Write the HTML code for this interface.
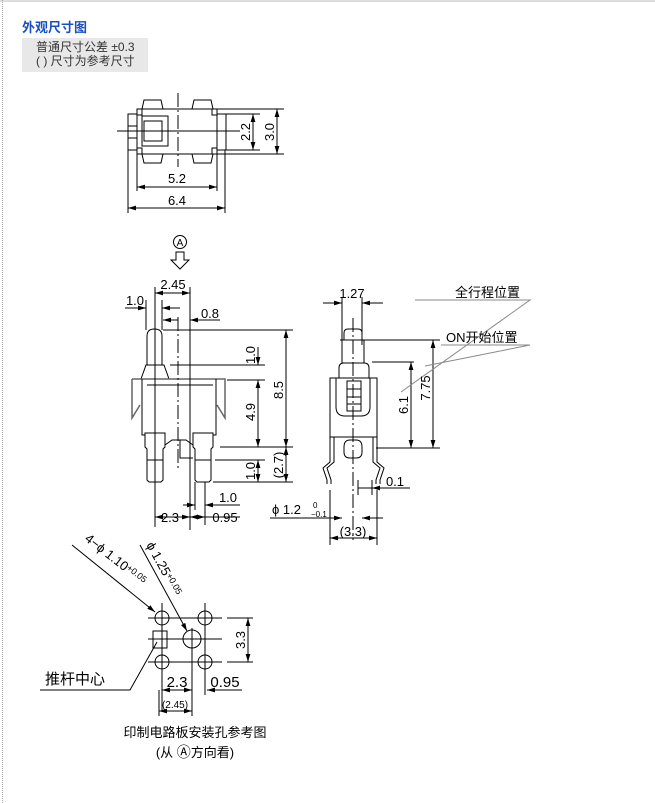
<!DOCTYPE html>
<html><head><meta charset="utf-8"><style>
body{margin:0;background:#fff;width:655px;height:803px;overflow:hidden;position:relative;font-family:"Liberation Sans","Noto Sans CJK SC",sans-serif}
.t{position:absolute;left:22px;top:17px;color:#1a4fc4;font-weight:bold;font-size:13px}
.box{position:absolute;left:22px;top:38px;width:126px;height:34px;background:#e8e8e8;font-size:12px;color:#333;line-height:14px;padding:2px 0 0 14px;box-sizing:border-box}
svg{position:absolute;left:0;top:0}
</style></head><body>
<div style="position:absolute;left:0;top:0;width:655px;height:2px;background:#ddd"></div>
<div style="position:absolute;left:2px;top:0;width:0;height:803px;border-left:1px dotted #aaa"></div>
<div class="t">外观尺寸图</div>
<div class="box">普通尺寸公差 ±0.3<br>( ) 尺寸为参考尺寸</div>
<svg width="655" height="803" viewBox="0 0 655 803" font-family="Liberation Sans, Noto Sans CJK SC, sans-serif">
<defs><marker id="a" viewBox="0 0 10 6" refX="10" refY="3" markerWidth="8" markerHeight="5" orient="auto-start-reverse"><path d="M0,0L10,3L0,6z" fill="#000"/></marker></defs>
<g stroke="#000" stroke-width="1" fill="none">
<!-- top view -->
<rect x="137" y="109" width="80" height="45"/>
<rect x="128" y="114" width="9" height="36"/><line x1="128" y1="126" x2="137" y2="126"/><line x1="128" y1="138" x2="137" y2="138"/>
<rect x="217" y="114" width="9" height="36"/>
<rect x="142" y="116" width="26" height="30"/><rect x="144" y="121" width="18" height="20"/>
<path d="M142,109L144,100H161L163,109M192,109L194,100H211L213,109M142,154L144,163H161L163,154M192,154L194,163H211L213,154"/>
<path d="M137,115h5v-6M217,115h-5v-6M137,148h5v6M217,148h-5v6"/>
<line x1="178" y1="93" x2="178" y2="167" stroke-dasharray="14,3,2,3"/>
<line x1="117" y1="131" x2="240" y2="131"/>
<path d="M226,114H260M226,150H260M217,109H284M217,154H284M137,154V191M217,154V191M128,150V213M225,150V213"/>
<line x1="253" y1="114" x2="253" y2="150" marker-start="url(#a)" marker-end="url(#a)"/>
<line x1="277" y1="109" x2="277" y2="154" marker-start="url(#a)" marker-end="url(#a)"/>
<line x1="137" y1="187" x2="217" y2="187" marker-start="url(#a)" marker-end="url(#a)"/>
<line x1="128" y1="208" x2="225" y2="208" marker-start="url(#a)" marker-end="url(#a)"/>
<circle cx="180" cy="242" r="6.5"/>
<path d="M176,252V260H171L180,269L189,260H184V252Z"/>
<!-- front view -->
<path d="M147,365V336Q147,329 154.5,329Q162,329 162,336V365"/>
<path d="M141,379L146,365H164L169,379"/>
<path d="M132,379H225V385M132,379V418L140,405M225,385V418L217,405" stroke="#666" stroke-width="1.5"/>
<path d="M142,379V435H145M216,379V435H213M147,385H213"/>
<path d="M145,433H165V447L163,449V480L161,482H149L147,480V449L145,447Z M147,460H163"/>
<path d="M193,433H213V447L211,449V480L209,482H197L195,480V449L193,447Z M195,460H211"/>
<path d="M165,445L172,440H186L193,445M180,440V458H193"/>
<line x1="178" y1="317" x2="178" y2="470" stroke-dasharray="14,3,2,3"/>
<path d="M155,287V527M190,287V530M146,300V330M162,300V330M163,330H293M170,365H265M227,380H265M215,460H265M213,482H293M220,447H293M195,482V510M205,482V525"/>
<line x1="155" y1="293" x2="190" y2="293" marker-start="url(#a)" marker-end="url(#a)"/>
<line x1="125" y1="308" x2="146" y2="308" marker-end="url(#a)"/><line x1="180" y1="308" x2="162" y2="308" marker-end="url(#a)"/>
<line x1="163" y1="320" x2="178" y2="320" marker-start="url(#a)"/><line x1="220" y1="320" x2="190" y2="320" marker-end="url(#a)"/>
<line x1="286" y1="330" x2="286" y2="447" marker-start="url(#a)" marker-end="url(#a)"/>
<line x1="286" y1="447" x2="286" y2="482" marker-start="url(#a)" marker-end="url(#a)"/>
<line x1="258" y1="347" x2="258" y2="365" marker-end="url(#a)"/>
<line x1="258" y1="380" x2="258" y2="447" marker-start="url(#a)" marker-end="url(#a)"/>
<line x1="258" y1="460" x2="258" y2="482" marker-start="url(#a)" marker-end="url(#a)"/>
<line x1="183" y1="505" x2="195" y2="505" marker-end="url(#a)"/><line x1="240" y1="505" x2="205" y2="505" marker-end="url(#a)"/>
<line x1="155" y1="517" x2="190" y2="517" marker-start="url(#a)" marker-end="url(#a)"/>
<line x1="190" y1="517" x2="205" y2="517" marker-start="url(#a)" marker-end="url(#a)"/><line x1="205" y1="517" x2="240" y2="517"/>
<!-- side view -->
<path d="M344,340V333Q344,329 348,329H358Q362,329 362,333V340M342,340V363H364V340Z"/>
<path d="M339,378V368Q339,363 344,363H364Q369,363 369,368V378"/>
<rect x="330" y="378" width="47" height="59"/>
<path d="M336,378V407Q336,416 345,416H361Q370,416 370,407V378"/>
<rect x="347" y="381" width="14" height="30"/><path d="M347,389H361M347,397H361M347,404H361"/>
<line x1="330" y1="437" x2="377" y2="437"/>
<path d="M344,447Q344,440 350,440H356Q362,440 362,447V452Q362,458 356,458H350Q344,458 344,452Z"/>
<path d="M330,437V462L323,468L327,480V484M334,437V462L327,468L331,480V484M377,437V462L384,468L380,480V484M373,437V462L380,468L376,480V484"/>
<line x1="353" y1="318" x2="353" y2="540" stroke-dasharray="14,3,2,3"/>
<path d="M342,297V345M362,297V345M340,340H440M372,362H414M376,448H440M330,490V545M377,490V545M358,480V495M372,480V495"/>
<line x1="323" y1="303" x2="342" y2="303" marker-end="url(#a)"/><line x1="383" y1="303" x2="362" y2="303" marker-end="url(#a)"/>
<line x1="411" y1="362" x2="411" y2="448" marker-start="url(#a)" marker-end="url(#a)"/>
<line x1="433" y1="340" x2="433" y2="448" marker-start="url(#a)" marker-end="url(#a)"/>
<path d="M415,300H530L401,392M441,345H530L425,366" stroke="#888"/>
<line x1="358" y1="488" x2="372" y2="488"/><line x1="410" y1="488" x2="372" y2="488" marker-end="url(#a)"/>
<line x1="270" y1="518" x2="338" y2="518"/><line x1="330" y1="518" x2="342" y2="518" marker-end="url(#a)"/><line x1="383" y1="518" x2="362" y2="518" marker-end="url(#a)"/>
<line x1="330" y1="538" x2="377" y2="538" marker-start="url(#a)" marker-end="url(#a)"/>
<!-- PCB holes -->
<circle cx="162" cy="618" r="7"/><circle cx="205" cy="618" r="7"/><circle cx="162" cy="662" r="7"/><circle cx="205" cy="662" r="7"/><circle cx="192" cy="639" r="9"/>
<rect x="153" y="631" width="14" height="17"/>
<path d="M148,618H222M148,639H222M148,662H222M162,603V712M192,628V716M205,603V695M159,690V716M227,618H253M227,662H253"/>
<line x1="248" y1="618" x2="248" y2="662" marker-start="url(#a)" marker-end="url(#a)"/>
<line x1="162" y1="690" x2="192" y2="690" marker-start="url(#a)" marker-end="url(#a)"/>
<line x1="242" y1="690" x2="207" y2="690" marker-end="url(#a)"/>
<line x1="159" y1="711" x2="192" y2="711" marker-start="url(#a)" marker-end="url(#a)"/>
<line x1="72" y1="545" x2="155" y2="612" marker-end="url(#a)"/>
<line x1="140" y1="545" x2="187" y2="631" marker-end="url(#a)"/>
<path d="M40,690H130L157,642"/>
</g>
<g font-size="13" fill="#000">
<text x="177" y="183" text-anchor="middle">5.2</text>
<text x="177" y="205" text-anchor="middle">6.4</text>
<text transform="translate(250,132) rotate(-90)" text-anchor="middle">2.2</text>
<text transform="translate(274,132) rotate(-90)" text-anchor="middle">3.0</text>
<text x="180" y="246" text-anchor="middle" font-size="10">A</text>
<text x="173" y="289" text-anchor="middle">2.45</text>
<text x="135" y="305" text-anchor="middle">1.0</text>
<text x="210" y="318" text-anchor="middle">0.8</text>
<text transform="translate(255,355) rotate(-90)" text-anchor="middle">1.0</text>
<text transform="translate(255,412) rotate(-90)" text-anchor="middle">4.9</text>
<text transform="translate(255,471) rotate(-90)" text-anchor="middle">1.0</text>
<text transform="translate(283,390) rotate(-90)" text-anchor="middle">8.5</text>
<text transform="translate(283,465) rotate(-90)" text-anchor="middle">(2.7)</text>
<text x="228" y="502" text-anchor="middle">1.0</text>
<text x="170" y="522" text-anchor="middle">2.3</text>
<text x="225" y="522" text-anchor="middle">0.95</text>
<text x="352" y="298" text-anchor="middle">1.27</text>
<text x="455" y="297">全行程位置</text>
<text x="446" y="342">ON开始位置</text>
<text transform="translate(408,405) rotate(-90)" text-anchor="middle">6.1</text>
<text transform="translate(430,388) rotate(-90)" text-anchor="middle">7.75</text>
<text x="395" y="486" text-anchor="middle">0.1</text>
<text x="272" y="514">ϕ 1.2</text>
<text x="313" y="508" font-size="8">0</text><text x="311" y="517" font-size="8">−0.1</text>
<text x="353" y="536" text-anchor="middle">(3.3)</text>
<text transform="translate(84,540) rotate(38)">4−ϕ 1.10<tspan font-size="9" dy="-3">+0.05</tspan></text>
<text transform="translate(146,545) rotate(61)">ϕ 1.25<tspan font-size="9" dy="-3">+0.05</tspan></text>
<text transform="translate(245,640) rotate(-90)" text-anchor="middle">3.3</text>
<text x="177" y="687" text-anchor="middle" font-size="15">2.3</text>
<text x="225" y="687" text-anchor="middle" font-size="15">0.95</text>
<text x="175" y="708" text-anchor="middle" font-size="10">(2.45)</text>
<text x="45" y="684" font-size="15">推杆中心</text>
<text x="195" y="737" text-anchor="middle">印制电路板安装孔参考图</text>
<text x="195" y="757" text-anchor="middle">(从 <tspan font-size="14">Ⓐ</tspan>方向看)</text>
</g>
</svg>
</body></html>
